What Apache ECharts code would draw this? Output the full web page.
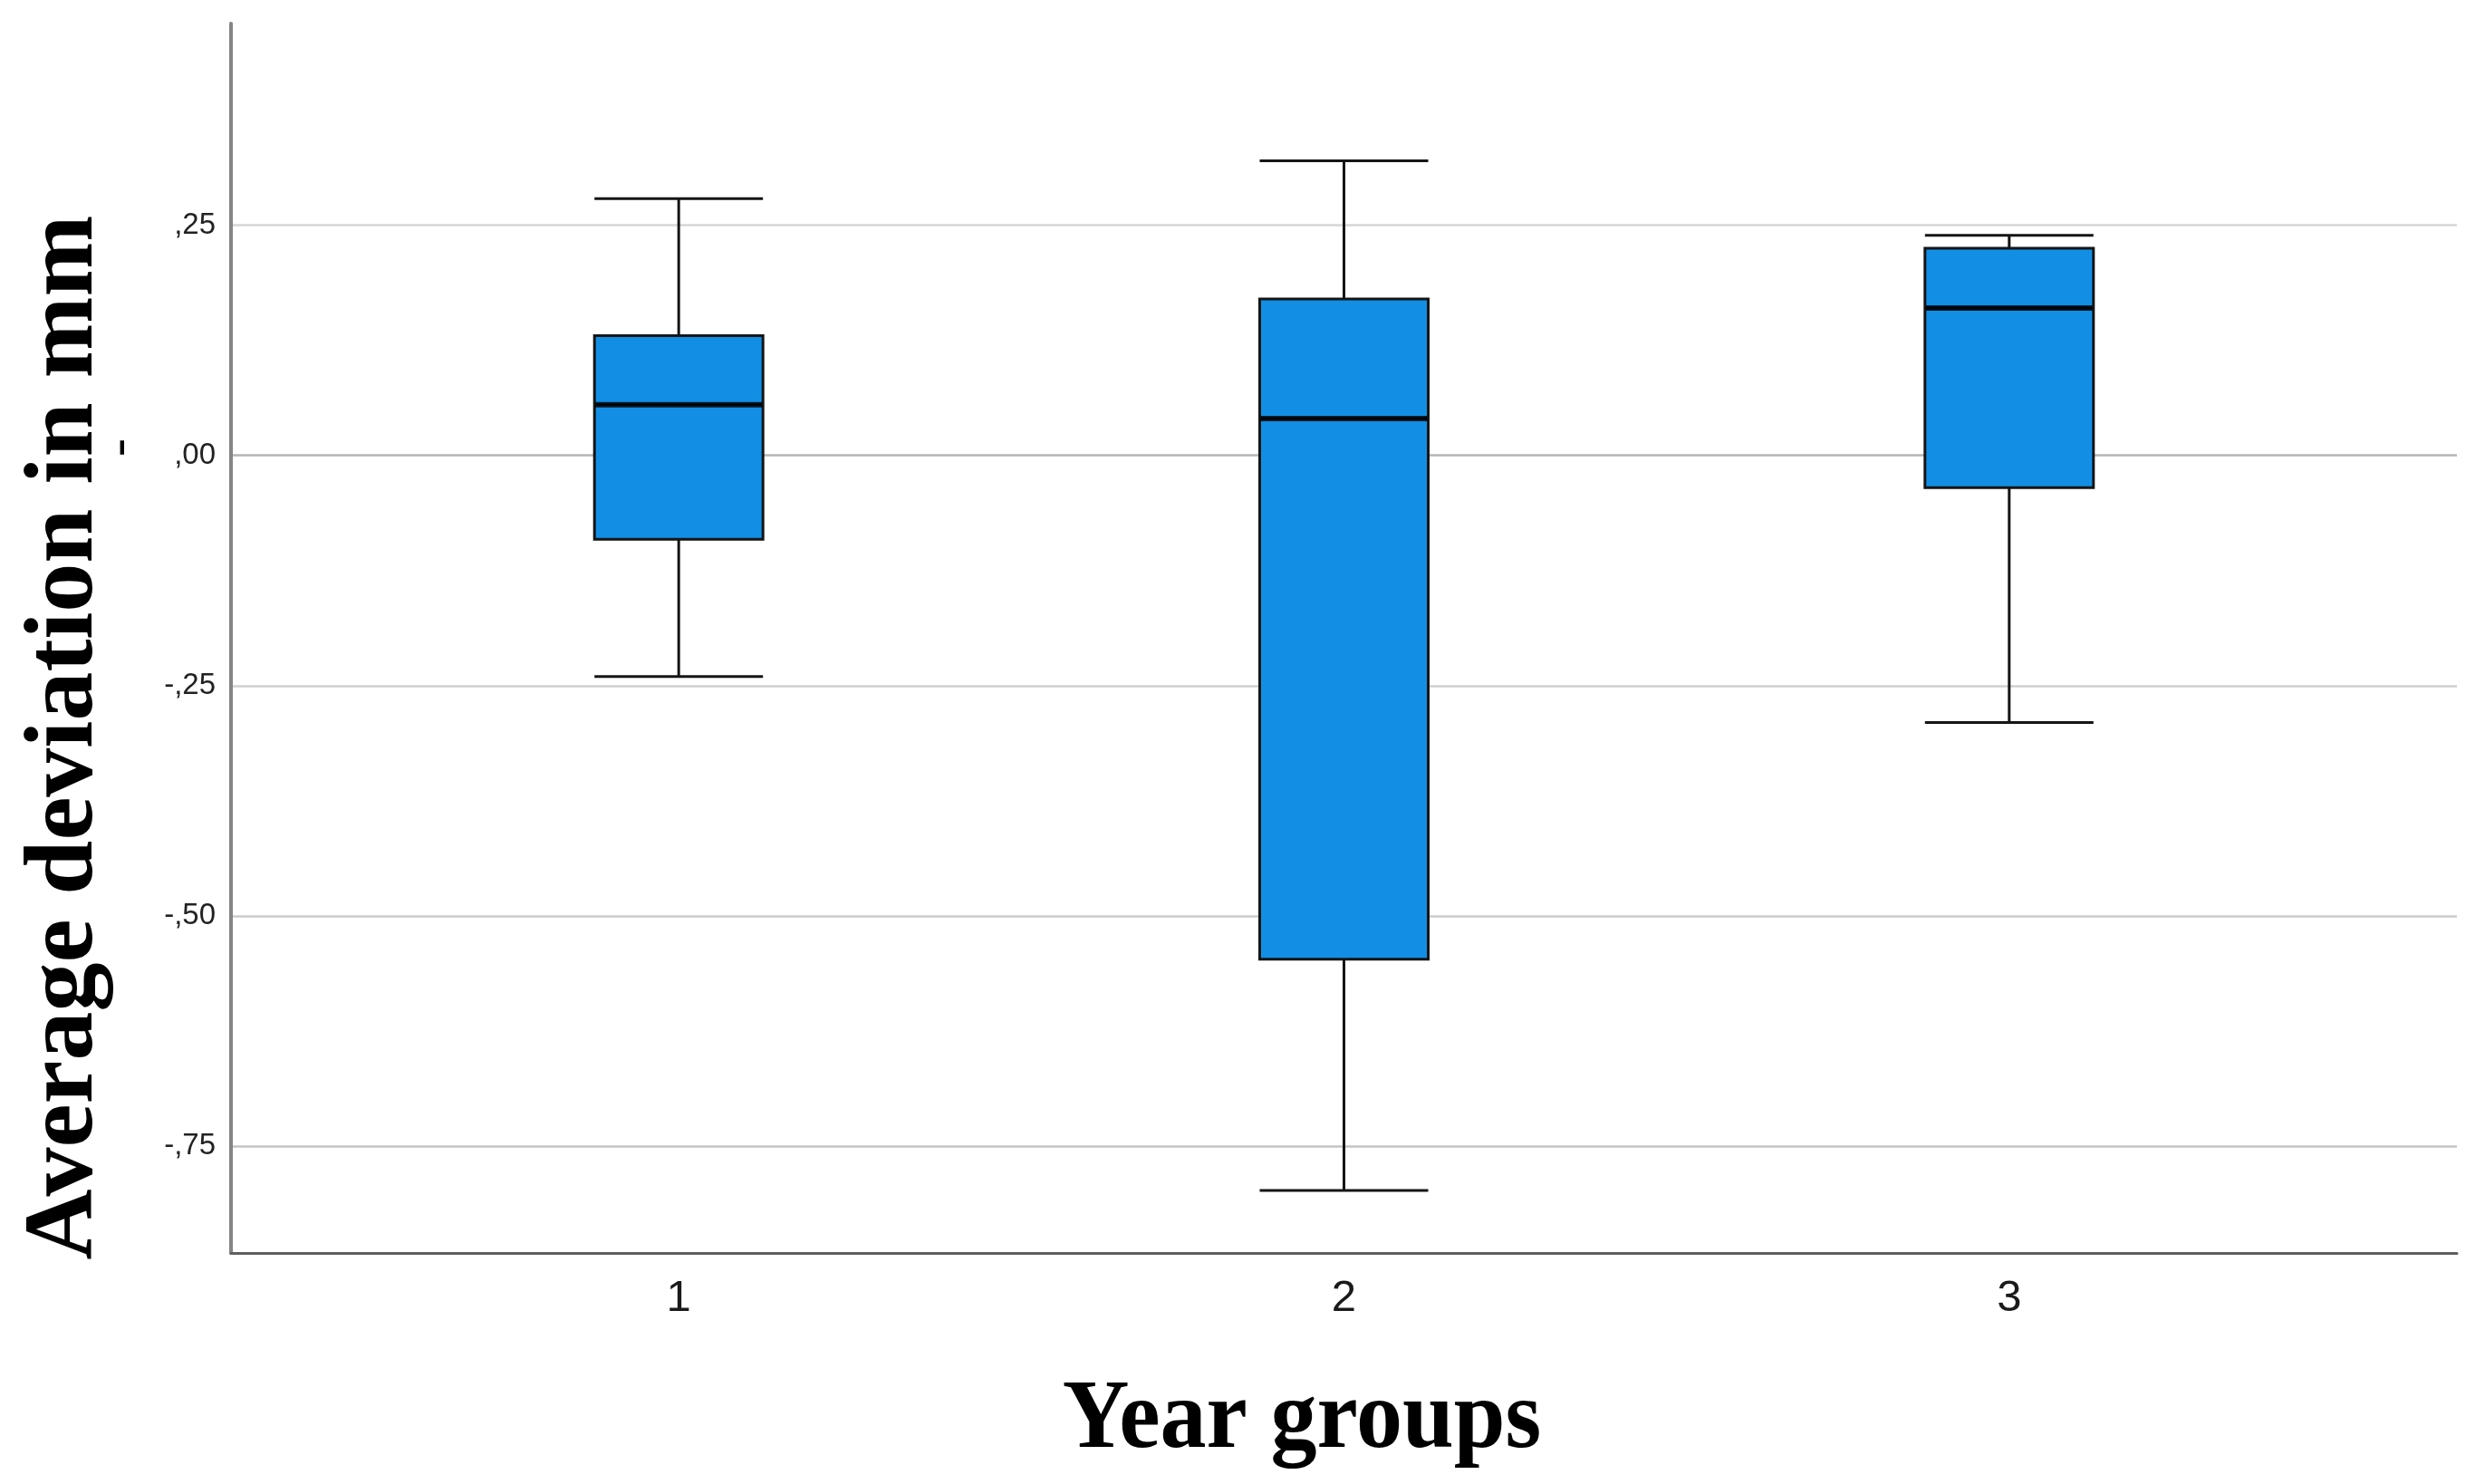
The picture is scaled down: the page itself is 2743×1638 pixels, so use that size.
<!DOCTYPE html>
<html>
<head>
<meta charset="utf-8">
<script src="https://cdn.jsdelivr.net/npm/echarts@6/dist/echarts.min.js"></script>
<style>
html,body{margin:0;padding:0;background:#fff;}
#chart{width:2743px;height:1638px;}
</style>
</head>
<body>
<div id="chart"></div>
<script>
// ---- data ----
const categories = ['1', '2', '3'];
const categoryPos = [1, 2, 3];
const whiskerLow = [-0.240, -0.798, -0.290];
const q1 = [-0.091, -0.547, -0.035];
const median = [0.055, 0.040, 0.160];
const q3 = [0.130, 0.170, 0.225];
const whiskerHigh = [0.279, 0.320, 0.239];
const yTickValues = [-0.75, -0.5, -0.25, 0, 0.25];
const yMin = -0.866, yMax = 0.469;
const xMin = 0.327, xMax = 3.673;
const xTitle = 'Year groups';
const yTitle = 'Average deviation in mm';

const boxData = categoryPos.map((x, i) => [x, whiskerLow[i], q1[i], median[i], q3[i], whiskerHigh[i]]);
const medianData = categoryPos.map((x, i) => [x, median[i]]);

function fmtY(v) {
  const s = Math.abs(v).toFixed(2).replace(/^0/, '').replace('.', ',');
  return (v < -1e-9 ? '-' : '') + s;
}

const chart = echarts.init(document.getElementById('chart'), null, {renderer: 'canvas'});
chart.setOption({
  animation: false,
  backgroundColor: '#ffffff',
  grid: {left: 255, right: 31, top: 26, bottom: 255, containLabel: false},
  xAxis: {
    type: 'value',
    min: xMin, max: xMax,
    axisLine: {show: true, onZero: false, lineStyle: {color: '#5f5f5f', width: 3}},
    axisTick: {show: false, customValues: categoryPos},
    splitLine: {show: false},
    axisLabel: {
      customValues: categoryPos,
      formatter: v => categories[Math.round(v) - 1],
      fontFamily: 'Liberation Sans', fontSize: 49, color: '#1a1a1a',
      margin: 50, verticalAlign: 'middle'
    }
  },
  yAxis: {
    type: 'value',
    min: yMin, max: yMax,
    axisLine: {show: true, onZero: false, lineStyle: {color: '#858585', width: 4}},
    axisTick: {show: false, customValues: yTickValues},
    splitLine: {show: true, lineStyle: {color: ['#c4c4c4', '#cccccc', '#d0d0d0', '#b4b4b4', '#d6d6d6'], width: 2.5}},
    axisLabel: {
      customValues: yTickValues,
      formatter: fmtY,
      fontFamily: 'Liberation Sans', fontSize: 33, color: '#222',
      margin: 17, padding: [12, 0, 0, 0]
    }
  },
  series: [
    {
      type: 'boxplot',
      layout: 'horizontal',
      data: boxData,
      boxWidth: [186, 186],
      itemStyle: {color: '#128fe5', borderColor: '#151515', borderWidth: 3},
      emphasis: {disabled: true},
      z: 3
    },
    {
      type: 'scatter',
      data: medianData,
      symbol: 'rect',
      symbolSize: [184, 6],
      itemStyle: {color: '#000000'},
      emphasis: {disabled: true},
      silent: true,
      z: 4
    }
  ],
  graphic: [
    {
      type: 'text',
      x: 1437, y: 1569,
      scaleX: 0.945,
      style: {
        text: xTitle,
        font: 'bold 108px "Liberation Serif"',
        fill: '#000',
        align: 'center', verticalAlign: 'middle'
      }
    },
    {
      type: 'text',
      x: 73, y: 814,
      rotation: Math.PI / 2,
      style: {
        text: yTitle,
        font: 'bold 108px "Liberation Serif"',
        fill: '#000',
        align: 'center', verticalAlign: 'middle'
      }
    },
    {
      type: 'text',
      x: 133, y: 494,
      rotation: Math.PI / 2,
      style: {
        text: '-',
        font: '60px "Liberation Serif"',
        fill: '#000',
        align: 'center', verticalAlign: 'middle'
      }
    }
  ]
});
</script>
</body>
</html>
